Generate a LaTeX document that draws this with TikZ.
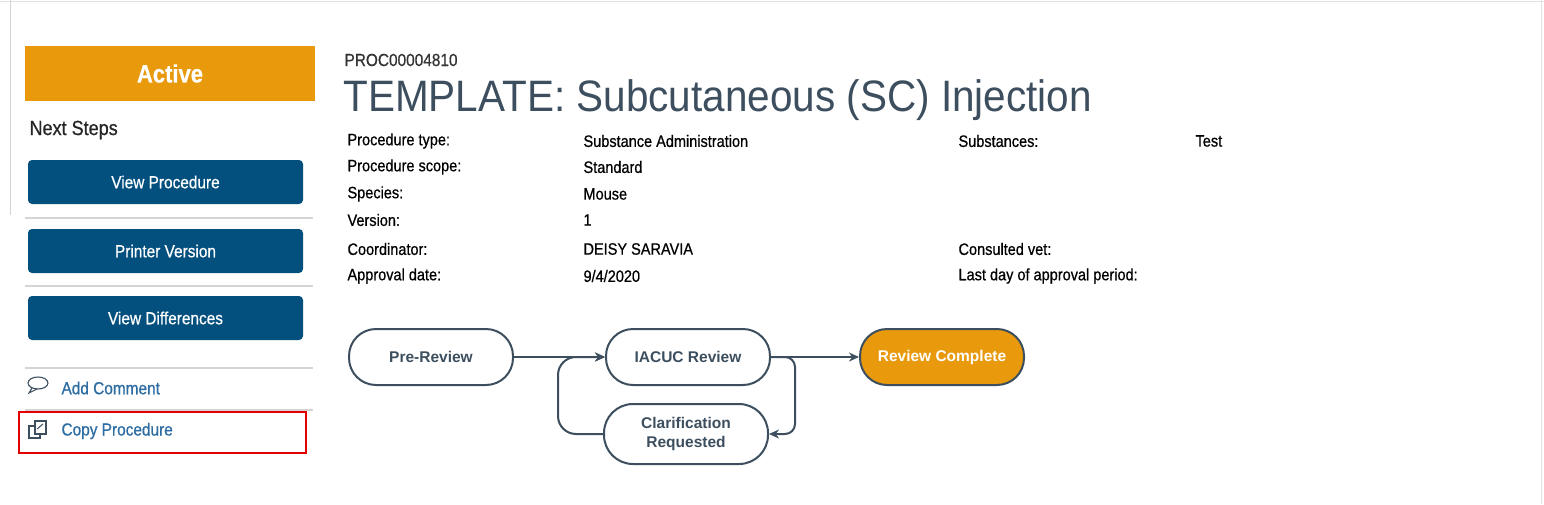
\documentclass[tikz,border=0pt]{standalone}
\usepackage{fontspec}
\setmainfont[FakeStretch=0.88,FakeBold=0.6]{Liberation Sans}
\newfontfamily\tf[FakeStretch=0.92]{Liberation Sans}
\newfontfamily\wf{Liberation Sans}
\usetikzlibrary{arrows.meta}
\definecolor{orng}{HTML}{E8990C}
\definecolor{btn}{HTML}{03507F}
\definecolor{slate}{HTML}{3D4F5F}
\definecolor{lnk}{HTML}{2E6DA4}
\definecolor{sep}{HTML}{D4D4D4}
\begin{document}
\begin{tikzpicture}[x=1pt,y=-1pt,
  btnS/.style={fill=btn,rounded corners=4pt,text=white,font=\fontsize{17.5}{20}\selectfont},
  sepS/.style={draw=sep,line width=1.2pt},
  fld/.style={anchor=west,font=\fontsize{16.5}{19}\selectfont,text=black},
  st/.style={draw=slate,line width=2pt,rounded corners=27pt,minimum width=164pt,minimum height=56pt,font=\wf\bfseries\fontsize{15.5}{19}\selectfont,text=slate,align=center,fill=white},
  arr/.style={draw=slate,line width=2pt,-{Stealth[length=10pt,width=9pt]}}]
\useasboundingbox (0,0) rectangle (1544,504);
\fill[white] (0,0) rectangle (1544,504);
\draw[sep!70,line width=1pt] (0,1.5) -- (1544,1.5);
\draw[sep!70,line width=1pt] (1541,0) -- (1541,504);
\draw[sep,line width=1pt] (10,0) -- (10,215);
% left panel
\node[fill=orng,minimum width=290pt,minimum height=55pt,inner sep=0pt,text=white,font=\bfseries\fontsize{25}{28}\selectfont] (active) at (170,73.5) {Active};
\node[anchor=west,font=\fontsize{20.5}{24}\selectfont,text=black!85] (next) at (26,130) {Next Steps};
\node[btnS,minimum width=275pt,minimum height=44pt] (b1) at (165.5,182) {View Procedure};
\node[btnS,minimum width=275pt,minimum height=44pt] (b2) at (165.5,251) {Printer Version};
\node[btnS,minimum width=275pt,minimum height=44pt] (b3) at (165.5,318) {View Differences};
\draw[sepS] (25,218) -- (313,218);
\draw[sepS] (25,286) -- (313,286);
\draw[sepS] (25,368) -- (313,368);
\draw[sepS] (25,410) -- (313,410);
% comment icon
\draw[slate,line width=1.1pt] (38,383) ellipse (10pt and 6pt);
\draw[slate,line width=1.1pt] (32,388) -- (29,393) -- (37,389);
\node[anchor=west,text=lnk,font=\fontsize{17.5}{20}\selectfont] (addc) at (58,388) {Add Comment};
% copy icon
\draw[slate,line width=1.1pt] (29,426) rectangle (40,438);
\draw[slate,line width=1.1pt,fill=white] (35,421) -- (46,421) -- (46,434) -- (35,434) -- cycle;
\draw[slate,line width=1pt] (37,429) -- (43,424);
\node[anchor=west,text=lnk,font=\fontsize{17.5}{20}\selectfont] (copy) at (58,431) {Copy Procedure};
\draw[red!90!black,line width=2.6pt] (19,412) rectangle (306,453);
% header
\node[anchor=west,font=\fontsize{17.5}{20}\selectfont,text=black!80] (id) at (341,60) {PROC00004810};
\node[anchor=west,font=\tf\fontsize{44}{48}\selectfont,text=slate] (title) at (340,100) {TEMPLATE: Subcutaneous (SC) Injection};
\node[fld] (l1) at (344,141) {Procedure type:};
\node[fld] (v1) at (580,141) {Substance Administration};
\node[fld] (l1b) at (955,141) {Substances:};
\node[fld] (v1b) at (1192,141) {Test};
\node[fld] (l2) at (344,167) {Procedure scope:};
\node[fld] (v2) at (580,167) {Standard};
\node[fld] (l3) at (344,194) {Species:};
\node[fld] (v3) at (580,194) {Mouse};
\node[fld] (l4) at (344,220) {Version:};
\node[fld] (v4) at (580,220) {1};
\node[fld] (l5) at (344,249) {Coordinator:};
\node[fld] (v5) at (580,249) {DEISY SARAVIA};
\node[fld] (l5b) at (955,249) {Consulted vet:};
\node[fld] (l6) at (344,276) {Approval date:};
\node[fld] (v6) at (580,276) {9/4/2020};
\node[fld] (l6b) at (955,276) {Last day of approval period:};
% workflow
\node[st] (pre) at (431,357) {Pre-Review};
\node[st] (iac) at (688,357) {IACUC Review};
\node[st,fill=orng,text=white] (rc) at (942,357) {Review Complete};
\node[st,minimum height=60pt,rounded corners=29pt] (cl) at (686,434) {Clarification\\Requested};
\draw[arr] (pre.east) -- (iac.west);
\draw[arr] (iac.east) -- (rc.west);
\draw[arr,rounded corners=10pt] (iac.east) -- (795,357) -- (795,434) -- (cl.east);
\draw[arr,rounded corners=18pt] (cl.west) -- (558,434) -- (558,357) -- (iac.west);
\end{tikzpicture}
\end{document}
